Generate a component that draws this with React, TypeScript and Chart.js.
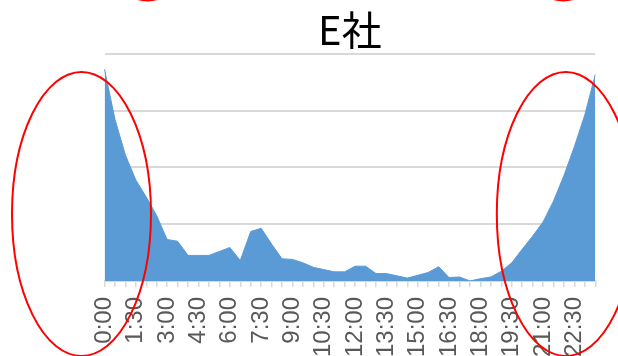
import React, { useEffect, useRef } from "react";
import { Chart, registerables } from "chart.js";

Chart.register(...registerables);

const TITLE = "E社";

// 30-minute slots 0:00 .. 23:30
const times: string[] = [];
for (let h = 0; h < 24; h++) {
  times.push(`${h}:00`);
  times.push(`${h}:30`);
}

const values: number[] = [
  3.73, 2.85, 2.22, 1.78, 1.48, 1.15, 0.73, 0.7, 0.45, 0.45,
  0.45, 0.52, 0.59, 0.36, 0.87, 0.93, 0.65, 0.39, 0.38, 0.32,
  0.24, 0.2, 0.16, 0.16, 0.26, 0.26, 0.13, 0.13, 0.09, 0.05,
  0.1, 0.15, 0.25, 0.06, 0.07, 0.0, 0.04, 0.07, 0.17, 0.32,
  0.56, 0.79, 1.04, 1.41, 1.86, 2.37, 2.93, 3.64,
];

const yMax = 4;
const labelEvery = 3;

// red highlight ellipses, offsets relative to the chart area
const ellipsePlugin = {
  id: "ellipses",
  afterDraw(chart: any) {
    const { ctx, chartArea } = chart;
    const { left, right, bottom } = chartArea;
    const items = [
      { cx: left - 23, cy: bottom - 67, rx: 69.5, ry: 142 },
      { cx: right - 29.5, cy: bottom - 67, rx: 69, ry: 142 },
      { cx: left + 43, cy: -142, rx: 69, ry: 142.5 },
      { cx: right - 32, cy: -142, rx: 69, ry: 142.5 },
    ];
    ctx.save();
    ctx.strokeStyle = "#FF0000";
    ctx.lineWidth = 2;
    for (const e of items) {
      ctx.beginPath();
      ctx.ellipse(e.cx, e.cy, e.rx, e.ry, 0, 0, Math.PI * 2);
      ctx.stroke();
    }
    ctx.restore();
  },
};

export default function App() {
  const ref = useRef<HTMLCanvasElement>(null);

  useEffect(() => {
    if (!ref.current) return;
    const chart = new Chart(ref.current, {
      type: "line",
      data: {
        labels: times,
        datasets: [
          {
            data: values,
            fill: "origin",
            backgroundColor: "#5B9BD5",
            borderColor: "#5B9BD5",
            borderWidth: 1,
            pointRadius: 0,
            tension: 0,
          },
        ],
      },
      options: {
        responsive: false,
        animation: false,
        devicePixelRatio: 1,
        layout: { padding: { left: 104.5, right: 22.7, top: 0, bottom: 0 } },
        plugins: {
          legend: { display: false },
          tooltip: { enabled: false },
          title: {
            display: true,
            text: TITLE,
            fullSize: false,
            color: "#000000",
            font: { family: "'Noto Sans CJK JP', 'Noto Sans'", size: 40, weight: "normal", lineHeight: 1.2 },
            padding: { top: 6, bottom: 0 },
          },
        },
        scales: {
          x: {
            type: "category",
            offset: false,
            afterFit: (scale: any) => {
              scale.paddingLeft = 0;
              scale.paddingRight = 0;
            },
            grid: {
              display: true,
              drawOnChartArea: false,
              drawTicks: true,
              tickLength: 6,
              color: "#D9D9D9",
              lineWidth: 1.5,
            },
            border: { display: true, color: "#D9D9D9", width: 1.5 },
            ticks: {
              autoSkip: false,
              minRotation: 90,
              maxRotation: 90,
              padding: 10,
              color: "#595959",
              font: { family: "'Liberation Sans', Arial", size: 24 },
              callback: (_v: any, i: number) => (i % labelEvery === 0 ? times[i] : ""),
            },
          },
          y: {
            min: 0,
            max: yMax,
            ticks: { display: false, stepSize: 1 },
            border: { display: false },
            grid: { color: "#D9D9D9", lineWidth: 2, drawTicks: false },
          },
        },
      },
      plugins: [ellipsePlugin],
    });
    return () => chart.destroy();
  }, []);

  return (
    <div style={{ position: "fixed", left: 0, top: 0, width: 618, height: 356, overflow: "hidden", background: "#fff" }}>
      <canvas ref={ref} width={618} height={367} />
    </div>
  );
}
